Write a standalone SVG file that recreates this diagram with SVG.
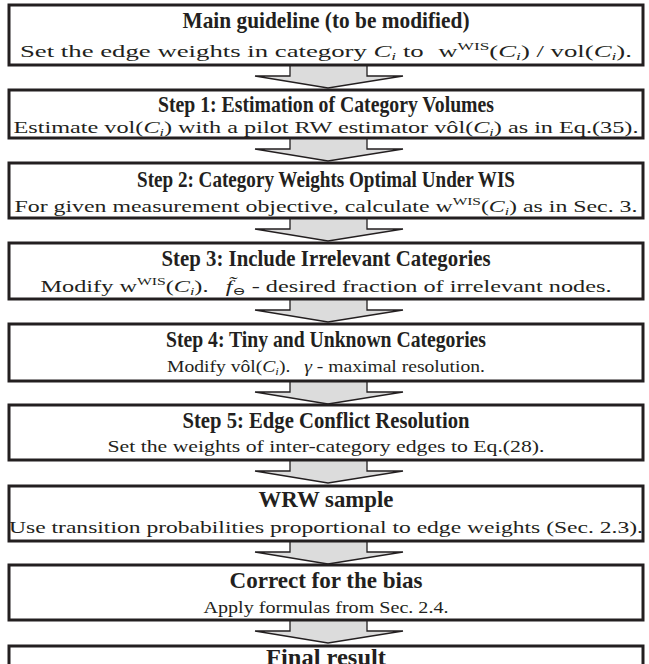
<svg xmlns="http://www.w3.org/2000/svg" xmlns:xlink="http://www.w3.org/1999/xlink" width="649" height="664" viewBox="0 0 649 664">
<style>
.box{fill:#ffffff;stroke:#231f20;stroke-width:3}
.arr{fill:#dcdcdc;stroke:#231f20;stroke-width:1.3;stroke-linejoin:miter}
.t{font-family:"Liberation Serif","DejaVu Serif",serif;font-weight:bold;font-size:23px;fill:#231f20;text-anchor:middle}
.s{font-family:"Liberation Serif","DejaVu Serif",serif;font-size:17px;fill:#231f20;text-anchor:middle}
.i{font-style:italic}
.sm{font-size:11px}
</style>
<defs>
<path id="arrow" d="M290,0 L367,0 L367,11 L403,11 L328,23 L255,11 L290,11 Z"/>
</defs>
<rect width="649" height="664" fill="#ffffff"/>
<g id="connectors">
<use xlink:href="#arrow" class="arr" transform="translate(0,65)"/>
<use xlink:href="#arrow" class="arr" transform="translate(0,138)"/>
<use xlink:href="#arrow" class="arr" transform="translate(0,218)"/>
<use xlink:href="#arrow" class="arr" transform="translate(0,299)"/>
<use xlink:href="#arrow" class="arr" transform="translate(0,381)"/>
<use xlink:href="#arrow" class="arr" transform="translate(0,460)"/>
<use xlink:href="#arrow" class="arr" transform="translate(0,541)"/>
<use xlink:href="#arrow" class="arr" transform="translate(0,620)"/>
</g>
<g id="main">
<rect class="box" x="9" y="5" width="634" height="60"/>
<text class="t" x="326" y="28" textLength="287" lengthAdjust="spacingAndGlyphs">Main guideline (to be modified)</text>
<text class="s" x="326" y="57" textLength="612" lengthAdjust="spacingAndGlyphs">Set the edge weights in category <tspan class="i">C</tspan><tspan class="i sm" dy="3">i</tspan><tspan dy="-3"> to </tspan><tspan dx="5">w</tspan><tspan class="sm" dy="-7">WIS</tspan><tspan dy="7">(</tspan><tspan class="i">C</tspan><tspan class="i sm" dy="3">i</tspan><tspan dy="-3">) / vol(</tspan><tspan class="i">C</tspan><tspan class="i sm" dy="3">i</tspan><tspan dy="-3">).</tspan></text>
</g>
<g id="step1">
<rect class="box" x="9" y="90" width="634" height="48"/>
<text class="t" x="326" y="112" textLength="336" lengthAdjust="spacingAndGlyphs">Step 1: Estimation of Category Volumes</text>
<text class="s" x="326" y="133" textLength="625" lengthAdjust="spacingAndGlyphs">Estimate vol(<tspan class="i">C</tspan><tspan class="i sm" dy="3">i</tspan><tspan dy="-3">) with a pilot RW estimator vôl(</tspan><tspan class="i">C</tspan><tspan class="i sm" dy="3">i</tspan><tspan dy="-3">) as in Eq.(35).</tspan></text>
</g>
<g id="step2">
<rect class="box" x="9" y="163" width="634" height="55"/>
<text class="t" x="326" y="187" textLength="378" lengthAdjust="spacingAndGlyphs">Step 2: Category Weights Optimal Under WIS</text>
<text class="s" x="326" y="212" textLength="623" lengthAdjust="spacingAndGlyphs">For given measurement objective, calculate w<tspan class="sm" dy="-7">WIS</tspan><tspan dy="7">(</tspan><tspan class="i">C</tspan><tspan class="i sm" dy="3">i</tspan><tspan dy="-3">) as in Sec. 3.</tspan></text>
</g>
<g id="step3">
<rect class="box" x="9" y="243" width="634" height="56"/>
<text class="t" x="326" y="266" textLength="329" lengthAdjust="spacingAndGlyphs">Step 3: Include Irrelevant Categories</text>
<text class="s" x="326" y="292" textLength="571" lengthAdjust="spacingAndGlyphs">Modify w<tspan class="sm" dy="-7">WIS</tspan><tspan dy="7">(</tspan><tspan class="i">C</tspan><tspan class="i sm" dy="3">i</tspan><tspan dy="-3">).</tspan><tspan class="i" dx="12">f̃</tspan><tspan class="sm" dy="3">⊖</tspan><tspan dy="-3"> - desired fraction of irrelevant nodes.</tspan></text>
</g>
<g id="step4">
<rect class="box" x="9" y="324" width="634" height="57"/>
<text class="t" x="326" y="347" textLength="320" lengthAdjust="spacingAndGlyphs">Step 4: Tiny and Unknown Categories</text>
<text class="s" x="326" y="372" textLength="318" lengthAdjust="spacingAndGlyphs">Modify vôl(<tspan class="i">C</tspan><tspan class="i sm" dy="3">i</tspan><tspan dy="-3">).</tspan><tspan class="i" dx="12">γ</tspan> - maximal resolution.</text>
</g>
<g id="step5">
<rect class="box" x="9" y="405" width="634" height="55"/>
<text class="t" x="326" y="428" textLength="287" lengthAdjust="spacingAndGlyphs">Step 5: Edge Conflict Resolution</text>
<text class="s" x="326" y="452" textLength="437" lengthAdjust="spacingAndGlyphs">Set the weights of inter-category edges to Eq.(28).</text>
</g>
<g id="wrw">
<rect class="box" x="9" y="486" width="634" height="55"/>
<text class="t" x="326" y="507" textLength="135" lengthAdjust="spacingAndGlyphs">WRW sample</text>
<text class="s" x="326" y="533" textLength="634" lengthAdjust="spacingAndGlyphs">Use transition probabilities proportional to edge weights (Sec. 2.3).</text>
</g>
<g id="correct">
<rect class="box" x="9" y="565" width="634" height="55"/>
<text class="t" x="326" y="588" textLength="193" lengthAdjust="spacingAndGlyphs">Correct for the bias</text>
<text class="s" x="326" y="613" textLength="245" lengthAdjust="spacingAndGlyphs">Apply formulas from Sec. 2.4.</text>
</g>
<g id="final">
<rect class="box" x="9" y="646" width="634" height="40"/>
<text class="t" x="326" y="665" textLength="120" lengthAdjust="spacingAndGlyphs">Final result</text>
</g>
</svg>
